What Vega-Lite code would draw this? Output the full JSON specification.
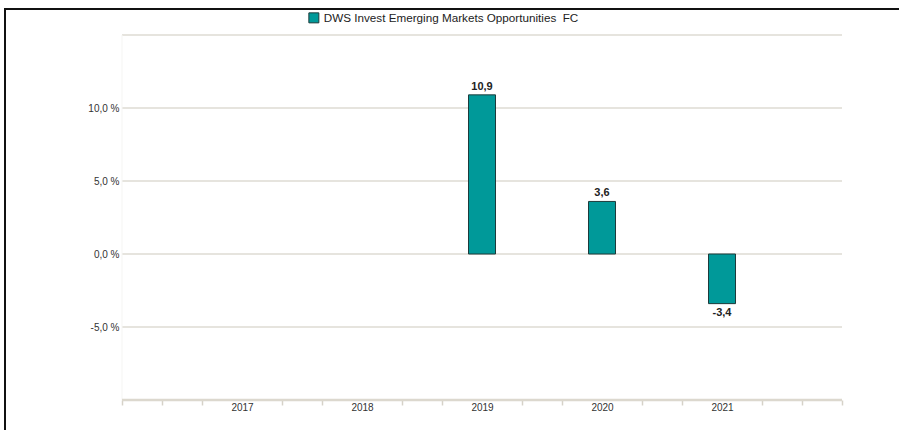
{
  "$schema": "https://vega.github.io/schema/vega-lite/v6.json",
  "width": 894,
  "height": 421,
  "autosize": {"type": "none"},
  "padding": {"left": 5, "top": 9, "right": 0, "bottom": 0},
  "background": "white",
  "config": {
    "view": {"stroke": "#111111", "strokeWidth": 2, "strokeDash": [894, 1315, 421]},
    "locale": {"number": {"decimal": ",", "thousands": ".", "grouping": [3], "currency": ["", " €"], "minus": "-"}},
    "font": "Liberation Sans"
  },
  "datasets": {
    "returns": [
      {"year": 2019, "value": 10.9, "series": "DWS Invest Emerging Markets Opportunities\u00a0 FC"},
      {"year": 2020, "value": 3.6, "series": "DWS Invest Emerging Markets Opportunities\u00a0 FC"},
      {"year": 2021, "value": -3.4, "series": "DWS Invest Emerging Markets Opportunities\u00a0 FC"}
    ],
    "grid": [{"level": 15}, {"level": 10}, {"level": 5}, {"level": 0}, {"level": -5}]
  },
  "layer": [
    {
      "data": {"name": "grid"},
      "mark": {"type": "rule", "color": "#dedbd3", "strokeWidth": 1.5},
      "encoding": {
        "y": {
          "field": "level",
          "type": "quantitative",
          "scale": {"domain": [-10, 15], "range": [391, 26], "nice": false, "zero": false, "padding": 0},
          "axis": {
            "values": [-5, 0, 5, 10],
            "labelExpr": "replace(replace(format(datum.value, '.1f'), '.', ','), '−', '-') + ' %'",
            "offset": -117,
            "domain": false,
            "ticks": false,
            "tickSize": 0,
            "grid": false,
            "labelPadding": 3,
            "labelFontSize": 10,
            "labelColor": "#333333",
            "labelFont": "Liberation Sans",
            "title": null
          }
        },
        "x": {"datum": 2016, "type": "quantitative"},
        "x2": {"datum": 2022}
      }
    },
    {
      "data": {"values": [{"a": 2016}]},
      "mark": {"type": "rule", "color": "#f5f5f3", "strokeWidth": 1},
      "encoding": {
        "x": {"field": "a", "type": "quantitative"},
        "y": {"datum": 15, "type": "quantitative"},
        "y2": {"datum": -10}
      }
    },
    {
      "data": {"values": [{"a": 2016, "b": 2022, "level": -10}]},
      "mark": {"type": "rule", "color": "#dcd8ce", "strokeWidth": 2.5},
      "encoding": {
        "x": {"field": "a", "type": "quantitative"},
        "x2": {"field": "b"},
        "y": {"field": "level", "type": "quantitative"}
      }
    },
    {
      "data": {"name": "returns"},
      "mark": {"type": "bar", "width": 27, "stroke": "#1d3b3b", "strokeWidth": 1},
      "encoding": {
        "x": {
          "field": "year",
          "type": "quantitative",
          "scale": {"domain": [2016, 2022], "range": [117, 837], "nice": false, "zero": false, "padding": 0},
          "axis": {
            "values": [2016, 2016.3333, 2016.6667, 2017, 2017.3333, 2017.6667, 2018, 2018.3333, 2018.6667, 2019, 2019.3333, 2019.6667, 2020, 2020.3333, 2020.6667, 2021, 2021.3333, 2021.6667, 2022],
            "labelExpr": "(abs(datum.value - round(datum.value)) < 0.01 && datum.value > 2016.5 && datum.value < 2021.5) ? ('' + round(datum.value)) : ''",
            "tickOpacity": {"condition": {"test": "abs(datum.value - round(datum.value)) < 0.01 && datum.value > 2016.5 && datum.value < 2021.5", "value": 0}, "value": 1},
            "offset": -30,
            "domain": false,
            "grid": false,
            "tickColor": "#d6d2c8",
            "tickSize": 5,
            "tickWidth": 1.5,
            "labelPadding": -3,
            "labelFontSize": 10,
            "labelColor": "#333333",
            "labelFont": "Liberation Sans",
            "title": null
          }
        },
        "y": {"field": "value", "type": "quantitative"},
        "color": {
          "field": "series",
          "type": "nominal",
          "scale": {"range": ["#009999"]},
          "legend": {
            "orient": "none",
            "legendX": 303,
            "legendY": 3,
            "title": null,
            "padding": 0,
            "symbolType": "square",
            "symbolSize": 100,
            "symbolStrokeColor": "#1d3b3b",
            "symbolStrokeWidth": 1,
            "labelFontSize": 11.7,
            "labelLimit": 0,
            "labelColor": "#222222",
            "labelFont": "Liberation Sans",
            "labelOffset": 4
          }
        }
      }
    },
    {
      "data": {"name": "returns"},
      "transform": [{"filter": "datum.value >= 0"}],
      "mark": {"type": "text", "baseline": "bottom", "dy": -3, "fontSize": 11, "fontWeight": "bold", "color": "#222222", "font": "Liberation Sans"},
      "encoding": {
        "x": {"field": "year", "type": "quantitative"},
        "y": {"field": "value", "type": "quantitative"},
        "text": {"field": "value", "type": "quantitative", "format": ".1f"}
      }
    },
    {
      "data": {"name": "returns"},
      "transform": [{"filter": "datum.value < 0"}],
      "mark": {"type": "text", "baseline": "top", "dy": 3, "fontSize": 11, "fontWeight": "bold", "color": "#222222", "font": "Liberation Sans"},
      "encoding": {
        "x": {"field": "year", "type": "quantitative"},
        "y": {"field": "value", "type": "quantitative"},
        "text": {"field": "value", "type": "quantitative", "format": ".1f"}
      }
    }
  ]
}
